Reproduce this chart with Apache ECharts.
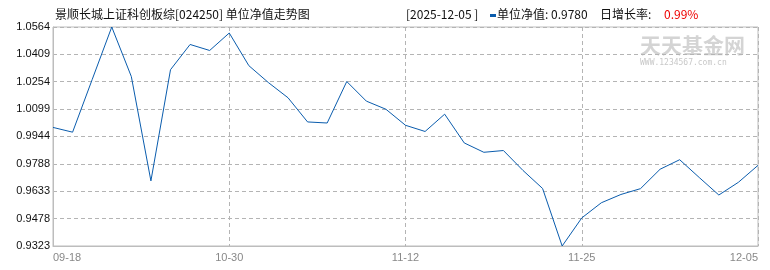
<!DOCTYPE html>
<html>
<head>
<meta charset="utf-8">
<script src="https://cdn.jsdelivr.net/npm/echarts@6/dist/echarts.min.js"></script>
<style>
html,body{margin:0;padding:0;background:#fff;}
#chart{width:770px;height:270px;}
</style>
</head>
<body>
<div id="chart"></div>
<script>
var dates = ['09-18','09-19','09-26','09-30','10-10','10-17','10-24','10-27','10-29','10-30',
  '10-31','11-03','11-04','11-05','11-06','11-07','11-10','11-11','11-12',
  '11-13','11-14','11-17','11-18','11-19','11-20','11-21','11-24','11-25',
  '11-26','11-27','11-28','11-30','12-01','12-02','12-03','12-04','12-05'];
var nav = [0.9995,0.9968,1.0266,1.0564,1.0283,0.9692,1.0322,1.0465,1.0431,1.0530,
  1.0345,1.0249,1.0163,1.0026,1.0020,1.0255,1.0144,1.0098,1.0007,
  0.9972,1.0070,0.9907,0.9854,0.9864,0.9751,0.9649,0.9323,0.9482,
  0.9568,0.9615,0.9648,0.9758,0.9812,0.9711,0.9612,0.9684,0.9780];
var yTicks = [0.9323,0.9478,0.9633,0.9788,0.9944,1.0099,1.0254,1.0409,1.0564];
var yMin = 0.9323, yMax = 1.0564;

var chart = echarts.init(document.getElementById('chart'), null, {renderer:'canvas'});
var baseFont = '"Liberation Sans", Arial, sans-serif';
var cjkFont = '"Noto Sans CJK SC", sans-serif';
chart.setOption({
  animation: false,
  backgroundColor: '#fff',
  grid: {left: 53, right: 12, top: 27, bottom: 24, show: true, borderColor: '#bdbdbd', borderWidth: 1},
  xAxis: {
    type: 'category', data: dates, boundaryGap: false,
    axisLine: {lineStyle: {color: '#bdbdbd'}},
    axisTick: {show: false},
    axisLabel: {interval: 8, color: '#888', fontSize: 11, fontFamily: baseFont, margin: 6,
      alignMinLabel: 'left', alignMaxLabel: 'right'},
    splitLine: {show: true, interval: 8, lineStyle: {color: '#b4b4b4', type: [4, 3], width: 1}}
  },
  yAxis: {
    type: 'value', min: yMin, max: yMax,
    axisLine: {show: true, lineStyle: {color: '#bdbdbd'}},
    axisTick: {show: false, customValues: yTicks},
    axisLabel: {customValues: yTicks, color: '#111', fontSize: 11, fontFamily: baseFont, margin: 3,
      formatter: function (v) { return v.toFixed(4); }},
    splitLine: {show: true, lineStyle: {color: '#b4b4b4', type: [4, 3], width: 1}}
  },
  graphic: [
    {type: 'text', left: 55, top: 8, style: {text: '景顺长城上证科创板综[024250] 单位净值走势图', fill: '#111', font: '12px ' + cjkFont}},
    {type: 'text', left: 406, top: 8, style: {text: '[2025-12-05 ]', fill: '#111', font: '12px ' + cjkFont}},
    {type: 'rect', shape: {x: 490, y: 14, width: 6, height: 3}, style: {fill: '#0a5cad'}},
    {type: 'text', left: 497, top: 8, style: {text: '单位净值: 0.9780', fill: '#111', font: '12px ' + cjkFont}},
    {type: 'text', left: 600, top: 8, style: {text: '日增长率:', fill: '#111', font: '12px ' + cjkFont}},
    {type: 'text', left: 664, top: 8, style: {text: '0.99%', fill: '#e00', font: '12px ' + cjkFont}},
    {type: 'text', left: 640, top: 35, style: {text: '天天基金网', fill: '#d4d4d4', font: 'bold 21px ' + cjkFont}},
    {type: 'text', left: 640, top: 59, style: {text: 'WWW.1234567.com.cn', fill: '#c8c8c8', font: '8px "DejaVu Sans Mono", monospace'}}
  ],
  series: [{
    type: 'line', data: nav, showSymbol: false, symbol: 'none',
    lineStyle: {color: '#0a5cad', width: 1}, z: 3
  }]
});
</script>
</body>
</html>
